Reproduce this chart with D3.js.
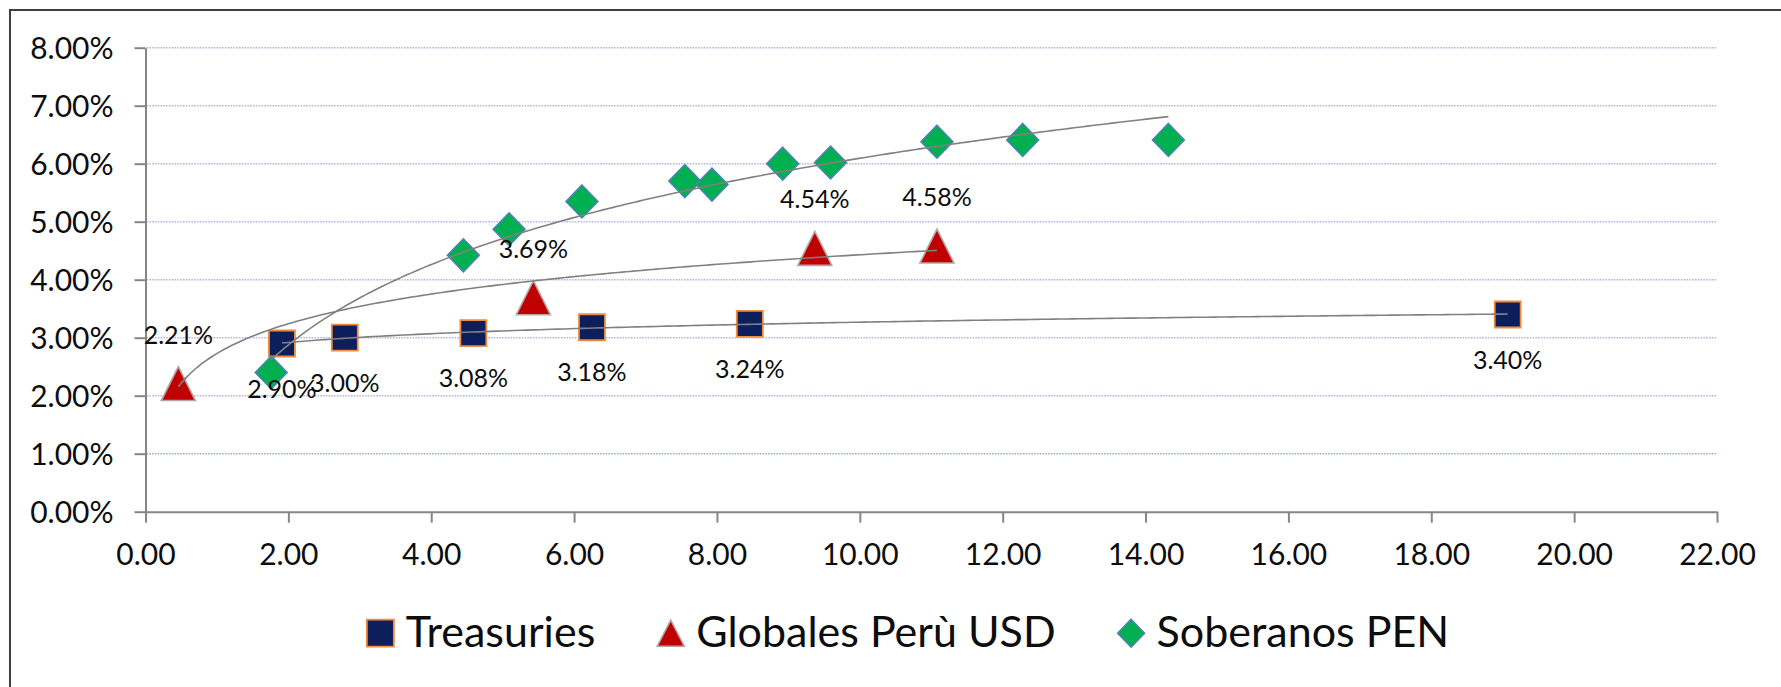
<!DOCTYPE html>
<html>
<head>
<meta charset="utf-8">
<script src="https://cdn.jsdelivr.net/npm/d3@7"></script>
<style>
  html, body { margin: 0; padding: 0; background: #ffffff; }
  svg { display: block; }
</style>
</head>
<body>
<svg id="chart" width="1781" height="687"></svg>
<script>
// Yield curves: duration (years) vs yield (%)
const treasX = [1.91, 2.79, 4.59, 6.25, 8.46, 19.07];
const treasY = [2.90, 3.00, 3.08, 3.18, 3.24, 3.40];

const globX = [0.46, 5.43, 9.37, 11.08];
const globY = [2.21, 3.69, 4.54, 4.58];

const sobX = [1.76, 4.45, 5.09, 6.11, 7.55, 7.93, 8.92, 9.59, 11.08, 12.28, 14.32];
const sobY = [2.40, 4.42, 4.87, 5.35, 5.70, 5.64, 6.00, 6.02, 6.38, 6.41, 6.41];

const seriesNames = ["Treasuries", "Globales Perù USD", "Soberanos PEN"];
const xTicks = [0, 2, 4, 6, 8, 10, 12, 14, 16, 18, 20, 22];
const yTicks = [0, 1, 2, 3, 4, 5, 6, 7, 8];

const FONT = "Lato, 'Liberation Sans', Arial, sans-serif";

const svg = d3.select("#chart");
const W = 1781, H = 687;

// Outer chart-area frame
svg.append("rect")
  .attr("x", 10).attr("y", 10)
  .attr("width", W + 20).attr("height", H + 20)
  .attr("fill", "#ffffff")
  .attr("stroke", "#3f3f3f").attr("stroke-width", 2);

const x = d3.scaleLinear().domain([0, 22]).range([145.5, 1717]);
const y = d3.scaleLinear().domain([0, 8]).range([511.7, 47.7]);

// Horizontal gridlines (dotted)
svg.append("g").selectAll("line")
  .data(yTicks.filter(v => v > 0))
  .join("line")
  .attr("x1", x(0) + 1).attr("x2", x(22))
  .attr("y1", d => y(d)).attr("y2", d => y(d))
  .attr("stroke", d => d === 1 ? "#9ab59a" : "#b4b4ea")
  .attr("stroke-width", 1.6)
  .attr("stroke-dasharray", "1.6,1.2");

// Axes
const yAxis = d3.axisLeft(y)
  .tickValues(yTicks)
  .tickSize(11).tickSizeOuter(0)
  .tickPadding(21)
  .tickFormat(d => d3.format(".2f")(d) + "%");

const xAxis = d3.axisBottom(x)
  .tickValues(xTicks)
  .tickSize(11).tickSizeOuter(0)
  .tickFormat(d3.format(".2f"));

const gy = svg.append("g").attr("transform", `translate(${x(0)},0)`).call(yAxis);
const gx = svg.append("g").attr("transform", `translate(0,${y(0)})`).call(xAxis);

[gx, gy].forEach(g => {
  g.select(".domain").attr("stroke", "#868686").attr("stroke-width", 2);
  g.selectAll(".tick line").attr("stroke", "#868686").attr("stroke-width", 2);
  g.selectAll(".tick text")
    .attr("fill", "#0d0d0d")
    .style("font-family", FONT)
    .style("font-size", "30px");
});
gy.selectAll(".tick text").attr("dy", "0.36em");
gx.selectAll(".tick text").attr("y", 53.8).attr("dy", 0);

// Marker shapes (bounding box centred on the point)
const squarePath = s => `M${-s/2},${-s/2}h${s}v${s}h${-s}Z`;
const trianglePath = (w, h) => `M0,${-h/2}L${w/2},${h/2}L${-w/2},${h/2}Z`;
const diamondPath = (w, h) => `M0,${-h/2}L${w/2},0L0,${h/2}L${-w/2},0Z`;

const styles = {
  treas: { path: squarePath(26), fill: "#0c1f5c", stroke: "#f38b3c", sw: 1.8,
           legend: squarePath(27) },
  glob:  { path: trianglePath(34, 34), fill: "#c00000", stroke: "#b3a5a5", sw: 1.6,
           legend: trianglePath(27, 26) },
  sob:   { path: diamondPath(32, 33), fill: "#00b050", stroke: "#4f81bd", sw: 1.5,
           legend: diamondPath(27, 28) }
};

const treasPts = treasX.map((v, i) => ({ x: v, y: treasY[i] }));
const globPts = globX.map((v, i) => ({ x: v, y: globY[i] }));
const sobPts = sobX.map((v, i) => ({ x: v, y: sobY[i] }));

function drawMarkers(pts, st) {
  svg.append("g").selectAll("path")
    .data(pts)
    .join("path")
    .attr("d", st.path)
    .attr("transform", d => `translate(${x(d.x)},${y(d.y)})`)
    .attr("fill", st.fill)
    .attr("stroke", st.stroke)
    .attr("stroke-width", st.sw)
    .attr("stroke-linejoin", "miter");
}
drawMarkers(treasPts, styles.treas);
drawMarkers(globPts, styles.glob);
drawMarkers(sobPts, styles.sob);

// Logarithmic trendlines (least squares on ln x)
function logFit(pts) {
  const lx = pts.map(p => Math.log(p.x));
  const mx = d3.mean(lx), my = d3.mean(pts, p => p.y);
  let sxy = 0, sxx = 0;
  pts.forEach((p, i) => { sxy += (lx[i] - mx) * (p.y - my); sxx += (lx[i] - mx) ** 2; });
  const b = sxy / sxx, a = my - b * mx;
  const [lo, hi] = d3.extent(pts, p => p.x);
  return d3.range(0, 201).map(k => {
    const xv = lo + (hi - lo) * k / 200;
    return { x: xv, y: a + b * Math.log(xv) };
  });
}
const trendLine = d3.line().x(d => x(d.x)).y(d => y(d.y));
[treasPts, globPts, sobPts].forEach(pts => {
  svg.append("path")
    .datum(logFit(pts))
    .attr("d", trendLine)
    .attr("fill", "none")
    .attr("stroke", "#808080")
    .attr("stroke-width", 1.6);
});

// Data labels
const pct = d => d3.format(".2f")(d) + "%";
function drawLabels(pts, dyBase) {
  svg.append("g").selectAll("text")
    .data(pts)
    .join("text")
    .attr("x", d => x(d.x))
    .attr("y", d => y(d.y) + dyBase)
    .attr("text-anchor", "middle")
    .attr("fill", "#0d0d0d")
    .style("font-family", FONT)
    .style("font-size", "25px")
    .text(d => pct(d.y));
}
drawLabels(treasPts, 54);
drawLabels(globPts, -40);

// Legend
const legendItems = [
  { name: seriesNames[0], st: styles.treas },
  { name: seriesNames[1], st: styles.glob },
  { name: seriesNames[2], st: styles.sob }
];
const legend = svg.append("g");
const symW = 27, symGap = 12, itemGap = 62, legendBase = 646.7, legendCenter = 908;
let cursor = 0;
legendItems.forEach(item => {
  const g = legend.append("g");
  g.append("path")
    .attr("d", item.st.legend)
    .attr("transform", `translate(${cursor + symW / 2},${legendBase - 13.5})`)
    .attr("fill", item.st.fill)
    .attr("stroke", item.st.stroke)
    .attr("stroke-width", item.st.sw);
  const t = g.append("text")
    .attr("x", cursor + symW + symGap)
    .attr("y", legendBase)
    .attr("fill", "#0d0d0d")
    .style("font-family", FONT)
    .style("font-size", "43px")
    .text(item.name);
  cursor += symW + symGap + t.node().getComputedTextLength() + itemGap;
});
cursor -= itemGap;
legend.attr("transform", `translate(${legendCenter - cursor / 2},0)`);
</script>
</body>
</html>
